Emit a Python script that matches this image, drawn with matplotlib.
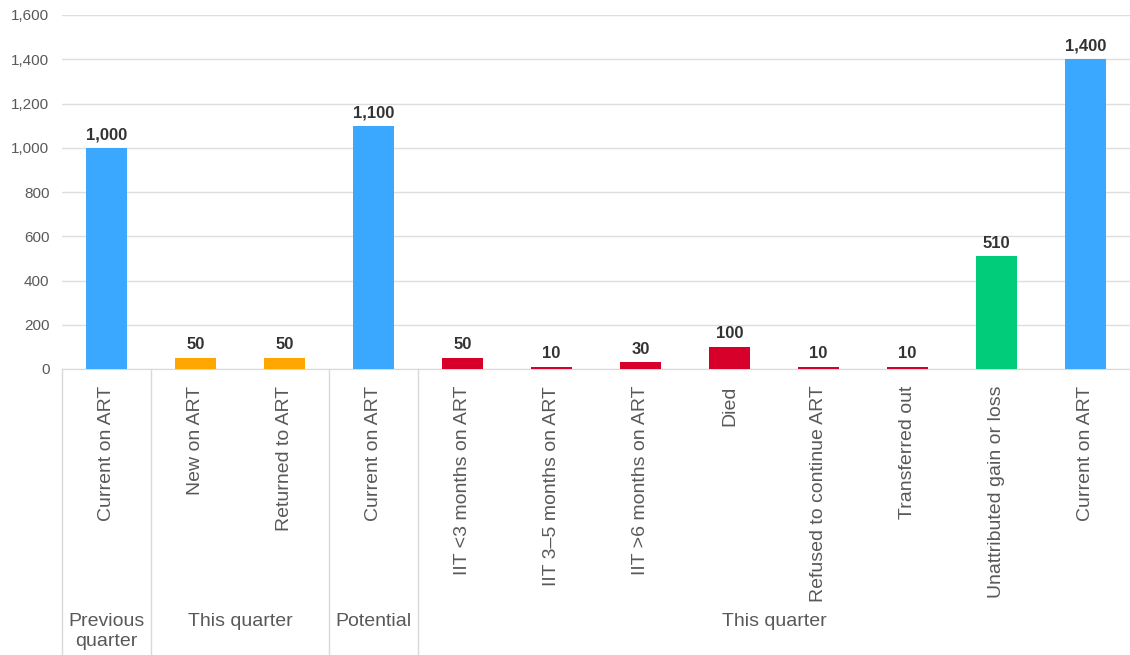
import numpy as np
import matplotlib.pyplot as plt
import matplotlib.transforms as mtransforms

categories = ["Current on ART", "New on ART", "Returned to ART", "Current on ART",
              "IIT <3 months on ART", "IIT 3\u20135 months on ART", "IIT >6 months on ART",
              "Died", "Refused to continue ART", "Transferred out",
              "Unattributed gain or loss", "Current on ART"]
values = [1000, 50, 50, 1100, 50, 10, 30, 100, 10, 10, 510, 1400]
kinds = ["total", "gain", "gain", "total", "loss", "loss", "loss", "loss", "loss", "loss",
         "unattr", "total"]
groups = ["Previous\nquarter", "This quarter", "Potential", "This quarter"]
group_sizes = [1, 2, 1, 8]

colors = {"total": "#3AA8FF", "gain": "#FFA600", "loss": "#D6002B", "unattr": "#00CC7A"}

plt.rcParams['font.family'] = ['Liberation Sans', 'DejaVu Sans']

fig = plt.figure(figsize=(11.3, 6.55), dpi=100)
ax = fig.add_axes([62/1130, 1-369/655, 1-62/1130, 354/655])

x = np.arange(len(values))
ax.bar(x, values, width=0.45, color=[colors[k] for k in kinds], zorder=3)
for xi, v in zip(x, values):
    ax.text(xi, v + 25, f"{v:,}", ha='center', va='bottom', fontsize=12,
            fontweight='bold', color='#333333')

ax.set_xlim(-0.5, len(values) - 0.5)
ax.set_ylim(0, 1600)
ax.set_yticks(np.arange(0, 1601, 200))
ax.yaxis.set_major_formatter(plt.FuncFormatter(lambda v, p: f"{int(v):,}"))
ax.grid(axis='y', color='#dedede', linewidth=1, zorder=0)
ax.tick_params(axis='y', length=0, labelsize=11, labelcolor='#595959', pad=9)
for s in ['top', 'right', 'left']:
    ax.spines[s].set_visible(False)
ax.spines['bottom'].set_color('#d9d9d9')

ax.set_xticks(x)
ax.set_xticklabels(categories, rotation=90, fontsize=14, color='#595959')
ax.tick_params(axis='x', length=0, pad=12)

# group separators and group labels below the axis
trans = mtransforms.blended_transform_factory(ax.transData, ax.transAxes)
bottom = -286/354
start = -0.5
bounds = [start]
for g, n in zip(groups, group_sizes):
    end = start + n
    ax.text((start + end) / 2, -244/354, g, transform=trans, ha='center', va='top',
            fontsize=14, color='#595959', linespacing=1.2)
    start = end
    bounds.append(end)
for b in bounds[:-1]:
    ax.plot([b, b], [0, bottom], transform=trans, color='#d9d9d9', linewidth=1,
            clip_on=False)

fig.savefig("out.png", dpi=100, facecolor='white')
